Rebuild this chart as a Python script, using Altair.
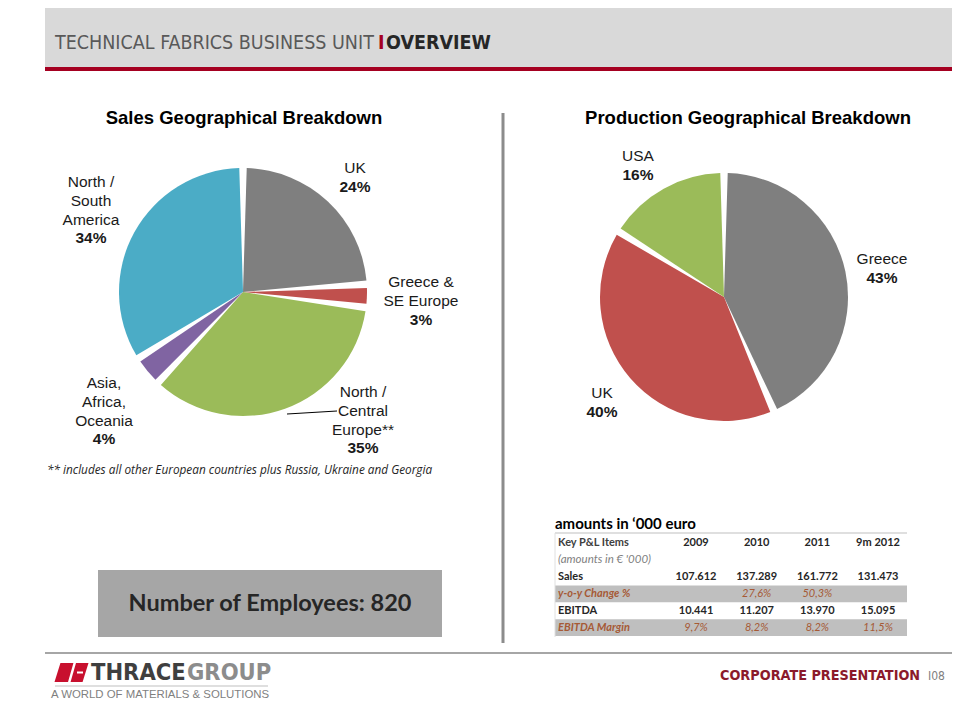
import altair as alt
import pandas as pd

# ---------------- data ----------------
sales_regions = ["UK", "Greece & SE Europe", "North / Central Europe",
                 "Asia, Africa, Oceania", "North / South America"]
sales_share = [24, 3, 35, 4, 34]
sales_colors = ["#7F7F7F", "#C0504D", "#9BBB59", "#8064A2", "#4BACC6"]
sales_label_lines = [["UK"], ["Greece &", "SE Europe"], ["North /", "Central", "Europe**"],
                     ["Asia,", "Africa,", "Oceania"], ["North /", "South", "America"]]

prod_regions = ["Greece", "UK", "USA"]
prod_share = [43, 40, 16]
prod_colors = ["#7F7F7F", "#C0504D", "#9BBB59"]
prod_label_lines = [["Greece"], ["UK"], ["USA"]]

table_cols = ["2009", "2010", "2011", "9m 2012"]
table_rows = ["head", "unit", "sales", "yoy", "ebitda", "margin"]
row_labels = ["Key P&L Items", "(amounts in € '000)", "Sales", "y-o-y Change %",
              "EBITDA", "EBITDA Margin"]
sales_vals = ["107.612", "137.289", "161.772", "131.473"]
yoy_vals = ["", "27,6%", "50,3%", ""]
ebitda_vals = ["10.441", "11.207", "13.970", "15.095"]
margin_vals = ["9,7%", "8,2%", "8,2%", "11,5%"]
employees = 820

# ---------------- layout ----------------
OX, OY = 8, 8
ONE = pd.DataFrame({"k": [0]})
ARIAL = "Liberation Sans, Arial, sans-serif"
NARROW = "DejaVu Sans Condensed, Liberation Sans, sans-serif"
CAL = "Lato, Open Sans, sans-serif"
BROWN = "#A65A36"

sales_center = (243, 292)
prod_center = (724, 297)
PIE_R = 124
sales_label_pos = [(355, 168), (421, 282), (363, 392), (104, 383), (91, 182)]
prod_label_pos = [(882, 259), (602, 393), (638, 156)]
LINE_H = 18.8


def X(v):
    return v - OX


def Y(v):
    return v - OY


def text(t, x, y, size, font=ARIAL, weight="normal", style="normal",
         color="#000000", align="center"):
    return alt.Chart(ONE).mark_text(
        text=t, font=font, fontSize=size, fontWeight=weight, fontStyle=style,
        color=color, align=align, baseline="middle"
    ).encode(x=alt.value(X(x)), y=alt.value(Y(y)))


def rect(x1, y1, x2, y2, color):
    return alt.Chart(ONE).mark_rect(color=color, opacity=1).encode(
        x=alt.value(X(x1)), x2=alt.value(X(x2)), y=alt.value(Y(y1)), y2=alt.value(Y(y2)))


def rule(x1, y1, x2, y2, color, w):
    return alt.Chart(ONE).mark_rule(color=color, strokeWidth=w).encode(
        x=alt.value(X(x1)), x2=alt.value(X(x2)), y=alt.value(Y(y1)), y2=alt.value(Y(y2)))


def pie(regions, shares, colors, center):
    df = pd.DataFrame({"region": regions, "share": shares, "idx": list(range(len(regions)))})
    return alt.Chart(df).mark_arc(radius=PIE_R, padAngle=0.06).encode(
        theta=alt.Theta("share:Q", stack=True),
        color=alt.Color("region:N", scale=alt.Scale(domain=regions, range=colors), legend=None),
        order=alt.Order("idx:Q", sort="ascending"),
        x=alt.value(X(center[0])), y=alt.value(Y(center[1])),
    )


def pie_labels(lines_list, shares, positions):
    out = []
    for lines, share, (cx, cy) in zip(lines_list, shares, positions):
        for i, ln in enumerate(lines):
            out.append(text(ln, cx, cy + i * LINE_H, 15.5, color="#1a1a1a"))
        out.append(text(f"{share}%", cx, cy + len(lines) * LINE_H, 15.5,
                        weight="bold", color="#1a1a1a"))
    return out


layers = []

# header
layers.append(rect(45, 0, 960, 67, "#D9D9D9"))
layers.append(rect(45, 67, 960, 71, "#A50021"))
layers.append(text("TECHNICAL FABRICS BUSINESS UNIT", 55, 43, 19.5, font=NARROW,
                   color="#595959", align="left"))
layers.append(text("I", 378, 43, 19.5, font=NARROW, weight="bold", color="#A50021", align="left"))
layers.append(text("OVERVIEW", 386, 43, 19.5, font=NARROW, weight="bold",
                   color="#262626", align="left"))

# titles
layers.append(text("Sales Geographical Breakdown", 244, 118, 18.5, weight="bold"))
layers.append(text("Production Geographical Breakdown", 748, 118, 18.5, weight="bold"))

# divider
layers.append(rule(503, 113, 503, 643, "#8C8C8C", 3))

# pies
layers.append(pie(sales_regions, sales_share, sales_colors, sales_center))
layers.append(pie(prod_regions, prod_share, prod_colors, prod_center))
layers += pie_labels(sales_label_lines, sales_share, sales_label_pos)
layers += pie_labels(prod_label_lines, prod_share, prod_label_pos)
layers.append(rule(287, 414, 337, 411, "#000000", 1))

# footnote
layers.append(text("** includes all other European countries plus Russia, Ukraine and Georgia",
                   47, 470, 11.8, font="Open Sans, Lato, sans-serif", style="italic",
                   color="#262626", align="left"))

# employees box
layers.append(rect(98, 570, 442, 637, "#A6A6A6"))
layers.append(text(f"Number of Employees: {employees}", 270, 604, 23.5, font=CAL,
                   weight="bold", color="#262626"))

# table
layers.append(text("amounts in ‘000 euro", 555, 524, 15, font=CAL, weight="bold",
                   color="#000000", align="left"))
TY = alt.Scale(type="band", domain=table_rows, range=[Y(535), Y(636)],
               paddingInner=0, paddingOuter=0)
TX = alt.Scale(type="point", domain=table_cols, range=[X(696), X(878)], padding=0)

band_df = pd.DataFrame({"row": ["yoy", "margin"]})
layers.append(alt.Chart(band_df).mark_rect(color="#BFBFBF", opacity=1).encode(
    y=alt.Y("row:N", scale=TY, axis=None),
    x=alt.value(X(555)), x2=alt.value(X(907))))
layers.append(rule(555, 533, 907, 533, "#BFBFBF", 1))
layers.append(rule(555, 533, 555, 637, "#E0E0E0", 1))

lab_df = pd.DataFrame({"row": table_rows, "text": row_labels})
lab_styles = {
    "head": dict(weight="bold", style="normal", color="#404040"),
    "unit": dict(weight="normal", style="italic", color="#7F7F7F"),
    "sales": dict(weight="bold", style="normal", color="#262626"),
    "yoy": dict(weight="bold", style="italic", color=BROWN),
    "ebitda": dict(weight="bold", style="normal", color="#262626"),
    "margin": dict(weight="bold", style="italic", color=BROWN),
}
for r, st in lab_styles.items():
    sub = lab_df[lab_df["row"] == r]
    layers.append(alt.Chart(sub).mark_text(
        font=CAL, fontSize=11.5 if r == "unit" else 11, fontWeight=st["weight"],
        fontStyle=st["style"], color=st["color"], align="left", baseline="middle"
    ).encode(x=alt.value(X(558)), y=alt.Y("row:N", scale=TY, axis=None), text="text:N"))

bold_cells = pd.DataFrame({
    "row": ["head"] * 4 + ["sales"] * 4 + ["ebitda"] * 4,
    "col": table_cols * 3,
    "text": table_cols + sales_vals + ebitda_vals,
})
ital_cells = pd.DataFrame({
    "row": ["yoy"] * 4 + ["margin"] * 4,
    "col": table_cols * 2,
    "text": yoy_vals + margin_vals,
})
layers.append(alt.Chart(bold_cells).mark_text(
    font=CAL, fontSize=11, fontWeight="bold", color="#262626", baseline="middle"
).encode(x=alt.X("col:N", scale=TX, axis=None), y=alt.Y("row:N", scale=TY, axis=None),
         text="text:N"))
layers.append(alt.Chart(ital_cells).mark_text(
    font=CAL, fontSize=11, fontStyle="italic", color=BROWN, baseline="middle"
).encode(x=alt.X("col:N", scale=TX, axis=None), y=alt.Y("row:N", scale=TY, axis=None),
         text="text:N"))

# footer
layers.append(rule(45, 653, 960, 653, "#A6A6A6", 2))
ICON = "M -0.65 -0.56 L 1 -0.56 L 0.65 0.56 L -1 0.56 Z"
layers.append(alt.Chart(ONE).mark_point(shape=ICON, filled=True, size=1156, color="#C8102E",
                                        opacity=1, strokeWidth=0).encode(
    x=alt.value(X(71.5)), y=alt.value(Y(672.5))))
layers.append(rule(69, 683, 75, 662, "#FFFFFF", 2.5))
layers.append(rule(77, 672.5, 83, 672.5, "#FFFFFF", 2))
layers.append(text("THRACE", 91, 673, 23.5, font=NARROW, weight="bold", color="#3F3F3F", align="left"))
layers.append(text("GROUP", 187, 673, 23.5, font=NARROW, weight="bold", color="#8C8C8C", align="left"))
layers.append(rule(55, 686, 268, 686, "#BFBFBF", 1))
layers.append(text("A WORLD OF MATERIALS & SOLUTIONS", 51, 695, 11.4, color="#7F7F7F", align="left"))
layers.append(text("CORPORATE PRESENTATION", 720, 676, 14.3, font=NARROW, weight="bold",
                   color="#8B1A2B", align="left"))
layers.append(text("I08", 928, 676, 12, font=NARROW, color="#7F7F7F", align="left"))

chart = alt.layer(*layers).resolve_scale(
    x="independent", y="independent", color="independent", theta="independent"
).properties(
    width=944, height=704, padding=0, autosize=alt.AutoSizeParams(type="none"),
    background="#FFFFFF",
).configure_view(stroke=None)

chart.save("out.html", embed_options={"renderer": "svg", "actions": False})
